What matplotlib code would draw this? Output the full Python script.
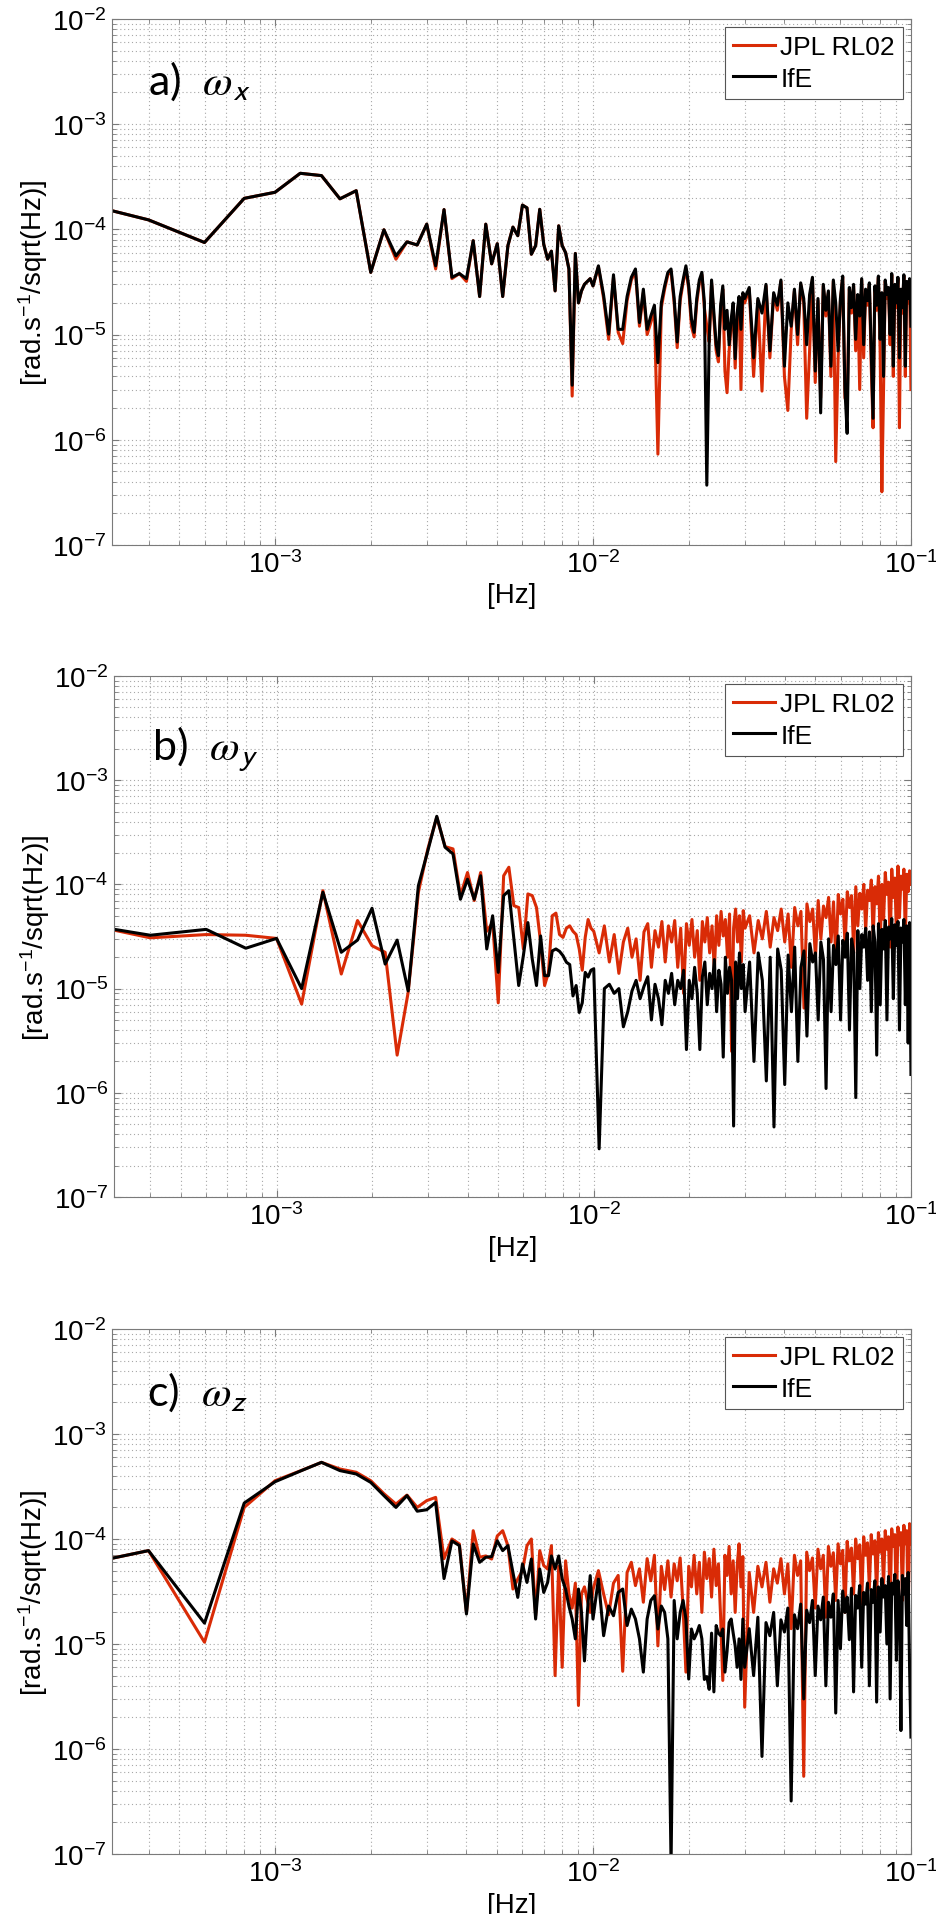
import numpy as np
import matplotlib
matplotlib.use("Agg")
import matplotlib.pyplot as plt
from matplotlib.ticker import LogLocator, NullFormatter

plt.rcParams['font.family'] = ['Liberation Sans', 'DejaVu Sans']
plt.rcParams['mathtext.fontset'] = 'custom'
plt.rcParams['mathtext.rm'] = 'Liberation Sans'
plt.rcParams['mathtext.it'] = 'Liberation Sans:italic'
plt.rcParams['mathtext.bf'] = 'Liberation Sans:bold'

# ---------------- data ----------------
# frequency bins [mHz]: 0.2 mHz spacing up to 10 mHz, then sampled
freq_lo_mhz = np.arange(1, 51) * 0.2            # 0.2 ... 10.0
freq_mid_mhz = 10.0 + np.arange(1, 51) * 0.4    # 10.4 ... 30.0
freq_hi_mhz = 30.0 + np.arange(1, 71) * 1.0     # 31 ... 100
freq_mhz = np.concatenate([freq_lo_mhz, freq_mid_mhz, freq_hi_mhz])

# amplitude spectral densities [1e-6 rad s^-1 / sqrt(Hz)]
wx_jpl = [208, 123, 75, 197, 225, 341, 324, 195, 233, 39, 99, 52, 76, 71, 112, 42, 154, 34, 38, 32,
          78, 23, 112, 47, 73, 23, 70, 105, 87, 170, 160, 58, 70, 155, 72, 52, 62, 26, 108, 70,
          60, 42, 2.6, 59, 20, 26, 30, 32, 34, 29,
          44, 22, 9, 35, 10.5, 8.2, 21, 33, 40, 12, 25, 10, 13, 17, 0.73, 18, 27, 37, 40, 20,
          7.5, 21, 31, 42, 27, 12, 9.5, 20, 31, 37, 18, 12, 8.5, 31, 14, 7, 5.5, 17, 27, 4.5,
          2.8, 7, 12, 18, 4.8, 15, 21, 3.0, 23, 20,
          27, 4, 21, 2.9, 29, 6, 24, 17, 32, 4, 1.9, 11, 26, 8, 30, 20, 1.6, 7, 34, 3.5,
          21, 2.5, 29, 15, 25, 4, 32, 0.62, 6, 21, 35, 2.5, 2.2, 27, 16, 29, 7, 23, 3, 33,
          6, 26, 19, 30, 5, 1.3, 28, 17, 35, 7, 0.32, 3, 32, 22, 27, 8, 37, 4, 29, 18,
          34, 1.3, 26, 16, 36, 4, 31, 20, 33, 3]
wx_ife = [208, 123, 75, 197, 225, 341, 324, 195, 233, 39, 99, 56, 76, 71, 112, 45, 154, 35, 38, 34,
          78, 23, 112, 47, 73, 23, 70, 105, 87, 170, 160, 58, 70, 155, 72, 52, 62, 26, 108, 70,
          60, 42, 3.3, 59, 20, 26, 30, 32, 34, 29,
          45, 23.6, 10.1, 37, 11.2, 11.2, 23, 35, 42, 13, 27, 11.2, 15, 19, 5.4, 20, 29, 39, 42, 22,
          8.5, 23, 33, 45, 29, 14.1, 10.5, 22, 33, 39, 20.3, 0.37, 9.2, 33, 16, 8, 6.3, 19, 29, 11.2,
          17, 8, 14, 20, 5.9, 16, 23, 11.2, 25, 22,
          28, 6, 22, 16, 30, 7, 25, 19, 33, 5, 20, 12, 27, 10, 31, 22, 8, 24, 35, 4.5,
          22, 1.8, 30, 17, 26, 5, 33, 20, 7, 22, 36, 3, 1.15, 28, 18, 30, 9, 24, 15, 34,
          8, 27, 21, 31, 7, 1.6, 29, 19, 36, 9, 25, 4, 33, 24, 28, 10, 38, 5, 30, 20,
          35, 6, 27, 18, 37, 5, 32, 22, 34, 12]

wy_jpl = [48, 30.7, 33, 32.5, 30.3, 7.1, 87, 13.8, 45, 25.8, 22.3, 2.3, 9.2, 84, 220, 440, 230, 219, 78, 130,
          70, 130, 35.5, 43, 7.3, 121, 146, 62.5, 60, 24, 81, 78, 60, 27.8, 10.7, 14.3, 50, 53, 33, 31,
          38, 40, 35.5, 33, 24, 15, 31, 46, 38, 35.5,
          22, 40, 18, 33, 14, 28, 38, 20, 30, 12, 35, 42, 16, 36, 25, 44, 18, 40, 28, 45,
          16, 38, 9, 42, 26, 46, 20, 36, 12, 44, 28, 48, 22, 40, 15, 50, 26, 55, 32, 46,
          20, 52, 2.5, 38, 58, 28, 50, 18, 56, 38,
          50, 22, 45, 30, 55, 25, 48, 36, 58, 28, 52, 16, 60, 40, 55, 6.5, 65, 44, 58, 20,
          70, 30, 62, 48, 75, 28, 68, 18, 80, 52, 72, 26, 85, 60, 78, 22, 95, 40, 82, 58,
          100, 36, 88, 70, 110, 30, 95, 65, 120, 28, 100, 46, 130, 80, 105, 25, 140, 75, 115, 32,
          150, 48, 120, 90, 140, 30, 125, 85, 135, 100]
wy_ife = [46, 32.5, 37, 24.4, 30.3, 10, 84, 22.3, 29.2, 59, 17.2, 29.2, 9.5, 97, 211, 450, 227, 196, 72, 112,
          72, 121, 24, 50, 14.3, 78, 87, 30, 10.7, 20.7, 43, 19.2, 10.7, 32, 13.3, 13.3, 23, 24, 22.8, 20.7,
          17.9, 17, 8.5, 10.7, 5.9, 7.3, 14.3, 12.9, 15, 15.5,
          0.29, 10, 11, 9, 10, 4.3, 6, 9.5, 12, 8, 10.5, 13, 5, 11, 8, 4.5, 12, 9, 14, 7,
          12, 10, 15, 2.6, 12, 8, 16, 9, 2.6, 13, 18, 7, 14, 10, 19, 6, 15, 11, 2.2, 20,
          9, 16, 12, 0.48, 18, 8, 22, 10, 17, 6,
          18, 2.0, 22, 12, 1.3, 20, 0.47, 24, 15, 1.2, 21, 6, 25, 2.0, 16, 23, 3.5, 27, 18, 22,
          5, 28, 19, 1.1, 30, 6, 26, 17, 32, 5, 29, 20, 34, 4, 30, 22, 0.9, 36, 10, 33,
          25, 38, 12, 35, 6, 40, 28, 2.3, 42, 7, 37, 24, 45, 5, 39, 30, 47, 8, 41, 26,
          44, 4, 38, 28, 46, 7, 40, 3, 43, 1.5]

wz_jpl = [50, 77.5, 10.4, 200, 359, 445, 537, 464, 432, 359, 270, 215, 262, 200, 232, 249, 65, 100, 89.6, 20,
          120, 67, 69, 64.5, 107, 120, 86.5, 33.4, 41.6, 50, 86.5, 100, 18.6, 77.5, 55.8, 51.8, 86.5, 5.0, 55, 6.0,
          62, 30, 22, 38, 2.6, 30, 35, 26, 20, 33,
          50, 30, 19, 38, 45, 5.5, 48, 60, 36, 52, 25, 65, 40, 70, 9.6, 55, 33, 62, 28, 58,
          40, 66, 22, 5.4, 55, 35, 70, 30, 60, 20, 75, 42, 65, 28, 80, 36, 58, 18, 4.5, 70,
          45, 85, 30, 62, 20, 55, 90, 35, 68, 2.5,
          48, 20, 55, 35, 60, 25, 52, 38, 65, 30, 58, 14, 70, 45, 62, 0.55, 75, 50, 66, 22,
          80, 52, 70, 18, 85, 55, 74, 26, 90, 58, 78, 20, 95, 62, 82, 30, 100, 65, 88, 24,
          105, 70, 92, 34, 110, 72, 96, 28, 115, 75, 100, 36, 120, 80, 105, 22, 125, 85, 110, 20,
          130, 88, 115, 26, 135, 90, 120, 18, 140, 90]
wz_ife = [50, 77.5, 15.8, 220, 351, 443, 537, 448, 416, 346, 259, 200, 259, 184, 190, 223, 42, 96, 86.5, 19.3,
          89.6, 60, 67, 68, 96, 77.5, 86.5, 48, 27.8, 57.8, 38.6, 64.5, 17.3, 51.8, 31, 38.6, 69, 51.8, 69, 41.6,
          33.4, 23, 17.3, 11.2, 33.4, 20, 6.9, 20, 44.8, 17.3,
          41.6, 12, 23, 18.6, 31, 33.4, 15, 21.5, 17.3, 11.2, 5.4, 17.3, 26, 28.8, 13.9, 23, 20, 11.2, 0.08, 26,
          11.2, 20, 26, 17.3, 4.64, 13.9, 11.2, 12.7, 15, 11.2, 4.6, 4.9, 3.7, 12.7, 3.5, 15, 12.7, 12, 13.9, 5.4,
          8.5, 16, 17.3, 12.7, 9.6, 6, 11.2, 4.6, 17.3, 6,
          14, 5, 18, 0.85, 16, 12, 20, 4, 17, 13, 22, 0.32, 19, 14, 24, 3, 21, 16, 26, 5,
          23, 17, 28, 4, 25, 18, 30, 2.2, 26, 9, 32, 20, 28, 11, 34, 3.5, 29, 22, 36, 6,
          31, 24, 38, 4, 33, 25, 40, 2.8, 35, 13, 42, 28, 36, 10, 44, 3, 38, 30, 46, 7,
          40, 26, 1.5, 45, 30, 42, 15, 48, 6, 1.3]

series_labels = ["JPL RL02", "IfE"]
panel_tags = ["a)", "b)", "c)"]
panel_axes = ["x", "y", "z"]
x_ticks = [1e-3, 1e-2, 1e-1]
y_ticks = [1e-7, 1e-6, 1e-5, 1e-4, 1e-3, 1e-2]

# ---------------- style ----------------
RED = '#d92b06'
GRID = '#a8a8a8'
SPINE = '#7a7a7a'
TICK_FS = 20

fig = plt.figure(figsize=(9.37, 19.15), dpi=100)
rects = [
    [0.1195, 0.7149, 0.8527, 0.2747],
    [0.1215, 0.3744, 0.8507, 0.2721],
    [0.1195, 0.0313, 0.8527, 0.2742],
]
tag_pos = [(0.045, 0.857), (0.048, 0.840), (0.044, 0.856)]
data = [(wx_jpl, wx_ife), (wy_jpl, wy_ife), (wz_jpl, wz_ife)]

freq_hz = freq_mhz * 1e-3

for i, rect in enumerate(rects):
    ax = fig.add_axes(rect)
    jpl, ife = data[i]
    ax.plot(freq_hz, np.array(jpl) * 1e-6, color=RED, lw=2.2, label=series_labels[0])
    ax.plot(freq_hz, np.array(ife) * 1e-6, color='black', lw=2.2, label=series_labels[1])
    ax.set_xscale('log')
    ax.set_yscale('log')
    ax.set_xlim(3.07e-4, 1e-1)
    ax.set_ylim(1e-7, 1e-2)
    ax.set_xticks(x_ticks)
    ax.set_yticks(y_ticks)
    ax.xaxis.set_minor_locator(LogLocator(base=10, subs=np.arange(2, 10), numticks=20))
    ax.yaxis.set_minor_locator(LogLocator(base=10, subs=np.arange(2, 10), numticks=20))
    ax.xaxis.set_minor_formatter(NullFormatter())
    ax.yaxis.set_minor_formatter(NullFormatter())
    ax.grid(True, which='both', linestyle=(0, (1, 2.5)), color=GRID, linewidth=0.8)
    ax.set_axisbelow(True)
    ax.tick_params(which='both', direction='in', top=True, right=True, color=SPINE,
                   labelsize=TICK_FS, pad=4)
    ax.tick_params(which='major', length=5, width=0.8)
    ax.tick_params(which='minor', length=3, width=0.6)
    for s in ax.spines.values():
        s.set_color(SPINE)
        s.set_linewidth(0.8)
    ax.set_xlabel('[Hz]', fontsize=20, labelpad=3)
    ax.set_ylabel(r'[rad.s$^{-1}$/sqrt(Hz)]', fontsize=20)
    ax.yaxis.set_label_coords(-0.078, 0.5)
    leg = ax.legend(loc='upper right', fontsize=19, handlelength=1.6, handletextpad=0.2,
                    borderpad=0.3, labelspacing=0.3, borderaxespad=0.3,
                    fancybox=False, framealpha=1.0, edgecolor='#555555')
    leg.get_frame().set_linewidth(0.8)
    tx, ty = tag_pos[i]
    ax.text(tx, ty, panel_tags[i] + r'  $\omega_\mathsf{' + panel_axes[i] + '}$',
            transform=ax.transAxes, fontsize=31, family='Lato', math_fontfamily='stix',
            ha='left', va='baseline')

fig.savefig('out.png', dpi=100)
